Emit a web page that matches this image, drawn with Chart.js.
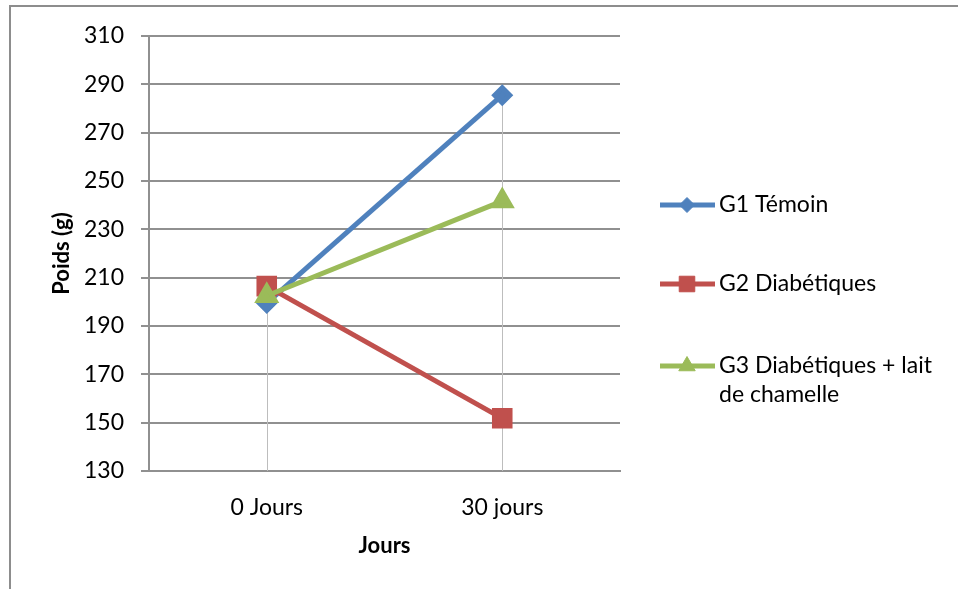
<!DOCTYPE html>
<html>
<head>
<meta charset="utf-8">
<script src="https://cdn.jsdelivr.net/npm/chart.js@4.4.1/dist/chart.umd.min.js"></script>
<style>
  body { margin: 0; background: #fff; overflow: hidden; }
  #cadre { position: absolute; left: 9px; top: 5px; width: 1000px; height: 700px;
           border-top: 2px solid #8d8d8d; border-left: 2px solid #8d8d8d; }
  #zone { position: absolute; left: 0; top: 0; width: 958px; height: 589px; }
</style>
</head>
<body>
<div id="cadre"></div>
<div id="zone"><canvas id="graphPoids"></canvas></div>
<script>
// Poids moyen (g) par groupe
const labelsJours = ['0 Jours', '30 jours'];
const poidsG1 = [199.5, 285.5];
const poidsG2 = [206.5, 151.8];
const poidsG3 = [202.5, 241.7];
const nomsGroupes = [['G1 Témoin'], ['G2 Diabétiques'], ['G3 Diabétiques + lait', 'de chamelle']];
const ticksPoids = [130, 150, 170, 190, 210, 230, 250, 270, 290, 310];

const police = 'Lato, Calibri, sans-serif';
const gris = '#909090';

// lignes de rappel verticales (axe -> point le plus haut)
const lignesRappel = {
    id: 'lignesRappel',
    beforeDatasetsDraw(chart) {
        const ctx = chart.ctx;
        const sx = chart.scales.x, sy = chart.scales.y;
        ctx.save();
        ctx.strokeStyle = '#bdbdbd';
        ctx.lineWidth = 1;
        labelsJours.forEach((l, i) => {
            const haut = Math.max(...chart.data.datasets.map(d => d.data[i]));
            const px = Math.round(sx.getPixelForValue(i)) + 0.5;
            ctx.beginPath();
            ctx.moveTo(px, sy.getPixelForValue(haut));
            ctx.lineTo(px, sy.bottom);
            ctx.stroke();
        });
        ctx.restore();
    }
};

// légende à droite, avec retour à la ligne
const legendeDroite = {
    id: 'legendeDroite',
    afterDraw(chart) {
        const ctx = chart.ctx;
        const lignesY = [205, 284, 366];
        ctx.save();
        chart.data.datasets.forEach((ds, i) => {
            const y = lignesY[i];
            ctx.strokeStyle = ds.borderColor;
            ctx.lineWidth = 5;
            ctx.beginPath();
            ctx.moveTo(660, y);
            ctx.lineTo(715, y);
            ctx.stroke();
            ctx.fillStyle = ds.backgroundColor;
            ctx.strokeStyle = ds.borderColor;
            ctx.lineWidth = 1;
            Chart.helpers.drawPoint(ctx, {pointStyle: ds.pointStyle, radius: ds.pointRadius, rotation: 0, borderWidth: 1}, 687, y);
            ctx.fillStyle = '#000';
            ctx.font = '23px ' + police;
            ctx.textBaseline = 'middle';
            ctx.textAlign = 'left';
            nomsGroupes[i].forEach((t, k) => ctx.fillText(t, 719, y + k * 29));
        });
        ctx.restore();
    }
};

const graphPoids = document.querySelector('#graphPoids');
const dataPoids = {
    labels: labelsJours,
    datasets: [{
        label: nomsGroupes[0].join(' '),
        data: poidsG1,
        borderColor: '#4f81bd',
        backgroundColor: '#4f81bd',
        borderWidth: 5,
        pointStyle: 'rectRot',
        pointRadius: 7.5,
        order: 3
    }, {
        label: nomsGroupes[1].join(' '),
        data: poidsG2,
        borderColor: '#c0504d',
        backgroundColor: '#c0504d',
        borderWidth: 5,
        pointStyle: 'rect',
        pointRadius: 11,
        order: 2
    }, {
        label: nomsGroupes[2].join(' '),
        data: poidsG3,
        borderColor: '#9bbb59',
        backgroundColor: '#9bbb59',
        borderWidth: 5,
        pointStyle: 'triangle',
        pointRadius: 9.5,
        order: 1
    }]
};

const configPoids = {
    type: 'line',
    data: dataPoids,
    plugins: [lignesRappel, legendeDroite],
    options: {
        responsive: true,
        maintainAspectRatio: false,
        animation: false,
        layout: { padding: { top: 36, right: 338, left: 0, bottom: 0 } },
        plugins: { legend: { display: false }, tooltip: { enabled: false } },
        scales: {
            x: {
                offset: true,
                afterFit: s => { s.height = 118; },
                grid: { display: false, drawTicks: false },
                border: { color: gris, width: 2 },
                ticks: { color: '#000', padding: 23, font: { family: police, size: 23 } },
                title: { display: true, text: 'Jours', color: '#000', padding: 30,
                         font: { family: police, size: 22, weight: 'bold' } }
            },
            y: {
                min: 130,
                max: 310,
                afterFit: s => { s.width = 149; },
                afterBuildTicks: s => { s.ticks = ticksPoids.map(v => ({ value: v })); },
                grid: { color: gris, lineWidth: 2, tickLength: 8 },
                border: { color: gris, width: 2 },
                ticks: { color: '#000', padding: 17, font: { family: police, size: 23 } },
                title: { display: true, text: 'Poids (g)', color: '#000', padding: 49,
                         font: { family: police, size: 22, weight: 'bold' } }
            }
        }
    }
};

new Chart(graphPoids, configPoids);
</script>
</body>
</html>
